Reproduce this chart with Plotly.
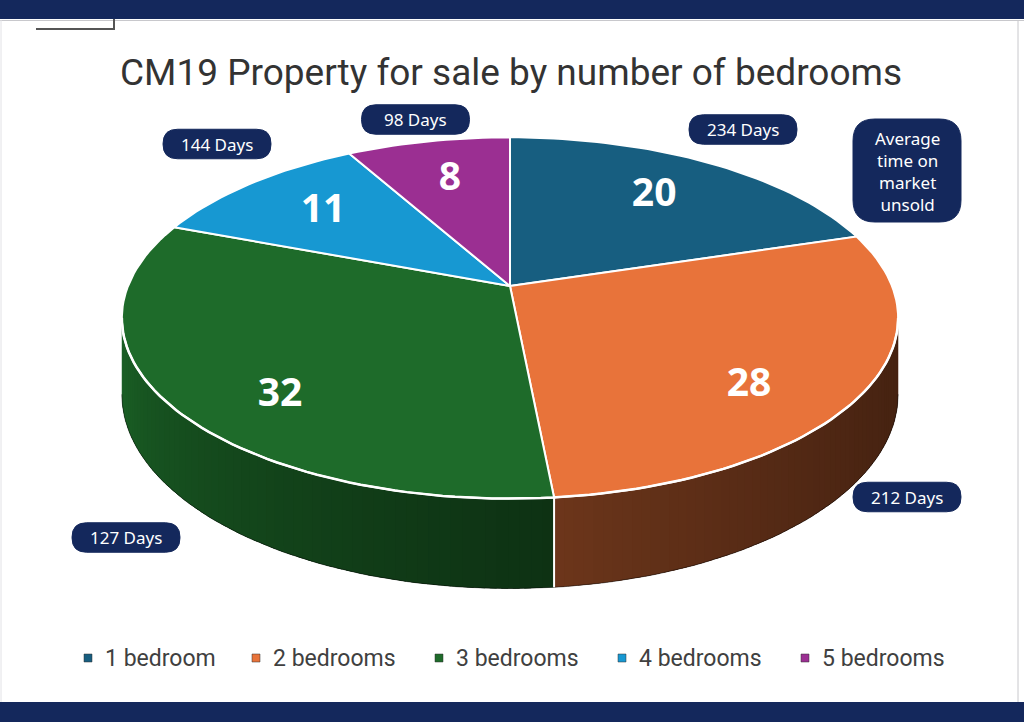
import numpy as np
import plotly.graph_objects as go

# ── Data ─────────────────────────────────────────────────────────────────────
CATEGORIES = ["1 bedroom", "2 bedrooms", "3 bedrooms", "4 bedrooms", "5 bedrooms"]
COUNTS     = [20, 28, 32, 11, 8]
DAYS       = [234, 212, 127, 144, 98]

# ── Palette ──────────────────────────────────────────────────────────────────
COLORS = ["#175E80", "#E8733A", "#1E6B2A", "#1798D2", "#9B2F92"]
NAVY   = "#14285C"
TITLE_C = "#333333"
LEG_C   = "#404040"

# ── Fake-3D projection (tilted disc seen in perspective, pixel space) ───────
CX, CY  = 510, 286
RX, RY  = 382, 175
PERSP   = 0.177
DEPTH   = 74
LABEL_R = 0.70

# hand placed callouts, same order as CATEGORIES
PILL_POS = [(743, 129.5), (907, 497), (126, 537.5), (217, 144), (415.5, 119.5)]
LEG_X    = [88, 256, 439, 622, 805]


def proj(u, v, z=0.0):
    w = 1 + PERSP * v
    return CX + RX * u / w, CY - RY * v / w + DEPTH * z / w


def arc(a0, a1, z=0.0, n=None):
    if n is None:
        n = max(8, int(abs(a1 - a0) / (2 * np.pi) * 240))
    t = np.linspace(a0, a1, n)
    return proj(np.sin(t), np.cos(t), z)


def shade(hex_c, f):
    h = hex_c.lstrip("#")
    r, g, b = (int(h[i:i + 2], 16) for i in (0, 2, 4))
    return f"rgb({int(r * f)},{int(g * f)},{int(b * f)})"


def pill_path(cx, cy, w, h, r):
    x0, x1, y0, y1 = cx - w / 2, cx + w / 2, cy - h / 2, cy + h / 2
    return (f"M{x0 + r},{y0} L{x1 - r},{y0} Q{x1},{y0} {x1},{y0 + r} "
            f"L{x1},{y1 - r} Q{x1},{y1} {x1 - r},{y1} L{x0 + r},{y1} "
            f"Q{x0},{y1} {x0},{y1 - r} L{x0},{y0 + r} Q{x0},{y0} {x0 + r},{y0} Z")


def wall_shade(a):
    t = (a - SIL_A) / (SIL_B - SIL_A)
    return 0.30 + 0.62 * t ** 1.7


total  = sum(COUNTS)
bounds = 2 * np.pi * np.concatenate([[0], np.cumsum(COUNTS)]) / total
SIL_A  = np.arccos(-PERSP)          # right silhouette of the side wall
SIL_B  = 2 * np.pi - SIL_A          # left silhouette

fig = go.Figure()

# ── Side wall (front part only), shaded strips ──────────────────────────────
for i, col in enumerate(COLORS):
    lo, hi = max(bounds[i], SIL_A), min(bounds[i + 1], SIL_B)
    if lo >= hi:
        continue
    # solid base so strip joins never show through
    tx, ty = arc(lo, hi, 0)
    bx, by = arc(hi, lo, 1)
    base = shade(col, wall_shade((lo + hi) / 2))
    fig.add_trace(go.Scatter(
        x=np.concatenate([tx, bx]), y=np.concatenate([ty, by]),
        fill="toself", fillcolor=base, mode="lines", line=dict(width=0),
        hoverinfo="skip", showlegend=False,
    ))
    edges = np.linspace(lo, hi, 61)
    eps = (hi - lo) / 60 * 0.6
    for a, b in zip(edges[:-1], edges[1:]):
        a2, b2 = a, min(b + eps, hi)
        tx, ty = arc(a2, b2, 0, 4)
        bx, by = arc(b2, a2, 1, 4)
        c = shade(col, wall_shade((a + b) / 2))
        fig.add_trace(go.Scatter(
            x=np.concatenate([tx, bx]), y=np.concatenate([ty, by]),
            fill="toself", fillcolor=c, mode="lines", line=dict(width=0),
            hoverinfo="skip", showlegend=False,
        ))

# bottom edge of the wall
bx, by = arc(SIL_A, SIL_B, 1)
fig.add_trace(go.Scatter(x=bx, y=by, mode="lines", line=dict(color="rgba(0,0,0,0.45)", width=1),
                         hoverinfo="skip", showlegend=False))

# white seams on the wall where slices meet
for a in bounds[1:-1]:
    if SIL_A < a < SIL_B:
        sx, sy = proj(np.array([np.sin(a)] * 2), np.array([np.cos(a)] * 2), np.array([0, 1]))
        fig.add_trace(go.Scatter(x=sx, y=sy, mode="lines", line=dict(color="white", width=2),
                                 hoverinfo="skip", showlegend=False))

# ── Top face slices ─────────────────────────────────────────────────────────
for i, (cat, n, col) in enumerate(zip(CATEGORIES, COUNTS, COLORS)):
    ax, ay = arc(bounds[i], bounds[i + 1])
    fig.add_trace(go.Scatter(
        x=np.concatenate([[CX], ax, [CX]]), y=np.concatenate([[CY], ay, [CY]]),
        fill="toself", fillcolor=col, mode="lines",
        line=dict(color="white", width=2),
        hoveron="fills", hoverinfo="text",
        text=f"{cat}: {n} properties<br>{DAYS[i]} days on market",
        showlegend=False,
    ))

# white rim along the front edge
rx_, ry_ = arc(SIL_A, SIL_B, 0)
fig.add_trace(go.Scatter(x=rx_, y=ry_, mode="lines", line=dict(color="white", width=2.5),
                         hoverinfo="skip", showlegend=False))

# ── Value labels ────────────────────────────────────────────────────────────
mids = (bounds[:-1] + bounds[1:]) / 2
lu, lv = LABEL_R * np.sin(mids), LABEL_R * np.cos(mids)
lx, ly = proj(lu, lv, 0.62 * np.clip(-np.cos(mids), 0, None))
fig.add_trace(go.Scatter(
    x=lx, y=ly, mode="text", text=[str(n) for n in COUNTS],
    textfont=dict(family="Open Sans", size=39, color="white", weight="bold"),
    hoverinfo="skip", showlegend=False,
))

# ── Frame ───────────────────────────────────────────────────────────────────
shapes = [
    dict(type="rect", x0=0, x1=1024, y0=0, y1=19, fillcolor=NAVY, line_width=0),
    dict(type="rect", x0=0, x1=1024, y0=702, y1=722, fillcolor=NAVY, line_width=0),
    dict(type="line", x0=0, x1=1024, y0=20.5, y1=20.5, line=dict(color="#c8c8cc", width=1)),
    dict(type="line", x0=1018, x1=1018, y0=20, y1=702, line=dict(color="#c8c8cc", width=1)),
    dict(type="line", x0=1, x1=1, y0=20, y1=702, line=dict(color="#e2e2e6", width=1)),
    dict(type="path", path="M36,29 L114,29 L114,19", line=dict(color="#555555", width=2)),
]

annotations = [
    dict(x=511, y=72, text="CM19 Property for sale by number of bedrooms", showarrow=False,
         font=dict(family="Roboto", size=37, color=TITLE_C), xanchor="center", yanchor="middle"),
]

# ── Days callouts ───────────────────────────────────────────────────────────
for (px, py), d in zip(PILL_POS, DAYS):
    shapes.append(dict(type="path", path=pill_path(px, py, 108, 29.5, 14.5),
                       fillcolor=NAVY, line=dict(color=NAVY, width=1)))
    annotations.append(dict(x=px, y=py, text=f"{d} Days", showarrow=False,
                            font=dict(family="Noto Sans", size=17, color="white")))

shapes.append(dict(type="path", path=pill_path(907, 170.5, 108, 103, 22),
                   fillcolor=NAVY, line=dict(color=NAVY, width=1)))
annotations.append(dict(x=907, y=171, text="Average<br>time on<br>market<br>unsold", showarrow=False,
                        font=dict(family="Noto Sans", size=17, color="white")))

# ── Legend ──────────────────────────────────────────────────────────────────
for x, cat, col in zip(LEG_X, CATEGORIES, COLORS):
    shapes.append(dict(type="rect", x0=x - 4, x1=x + 4, y0=654, y1=662,
                       fillcolor=col, line=dict(color="#333333", width=0.5)))
    annotations.append(dict(x=x + 15, y=658, text=cat, showarrow=False, xanchor="left",
                            yanchor="middle", font=dict(family="Roboto", size=23, color=LEG_C)))

fig.update_layout(
    width=1024, height=722,
    margin=dict(l=0, r=0, t=0, b=0),
    paper_bgcolor="white", plot_bgcolor="white",
    xaxis=dict(range=[0, 1024], visible=False, fixedrange=True),
    yaxis=dict(range=[722, 0], visible=False, fixedrange=True),
    shapes=shapes, annotations=annotations,
    showlegend=False,
)

# page body has a default 8px margin; drop it so the figure sits at 0,0
fig.write_html("out.html", config={"displayModeBar": False},
               post_script="document.body.style.margin='0';")
